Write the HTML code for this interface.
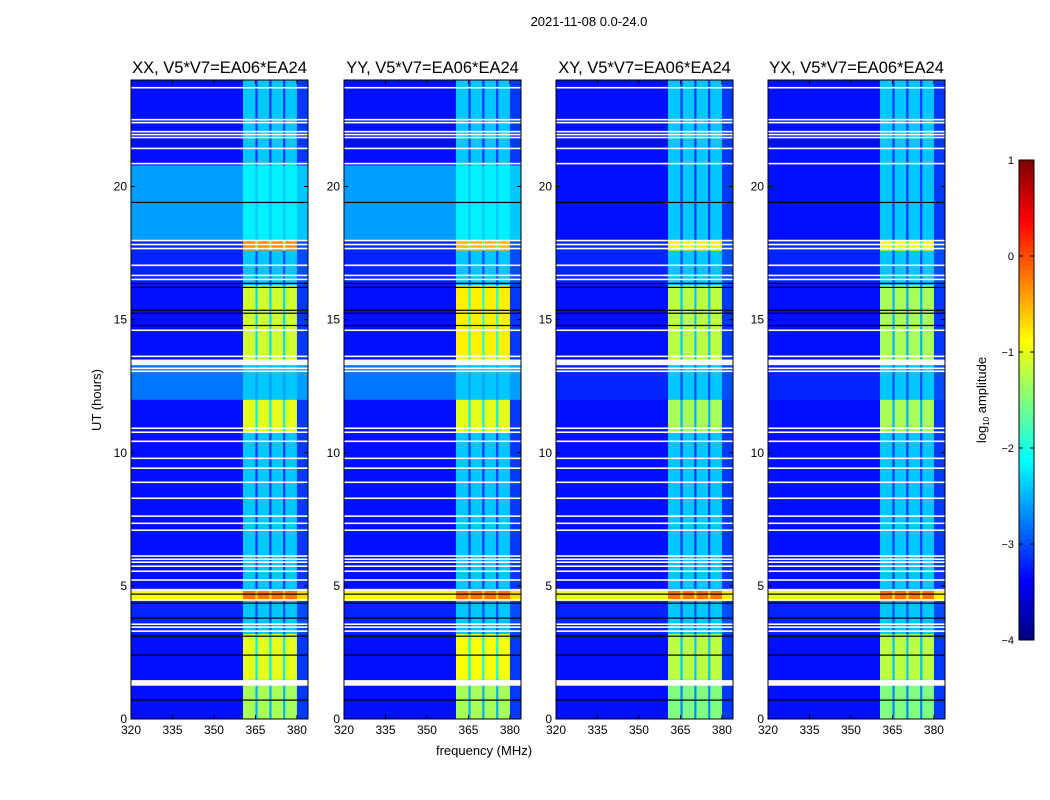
<!DOCTYPE html>
<html><head><meta charset="utf-8"><style>
body{margin:0;background:#fff;}
svg{display:block;font-family:"Liberation Sans",sans-serif;}
</style></head><body>
<svg id="fig" width="1050" height="800">
<text x="589" y="26" font-size="13" text-anchor="middle">2021-11-08 0.0-24.0</text>
<text x="484" y="755" font-size="13" text-anchor="middle">frequency (MHz)</text>
<text x="0" y="0" font-size="13" text-anchor="middle" transform="translate(101,400) rotate(-90)">UT (hours)</text>
</svg>
<script>
const panelTitles=["XX, V5*V7=EA06*EA24","YY, V5*V7=EA06*EA24","XY, V5*V7=EA06*EA24","YX, V5*V7=EA06*EA24"];
const xTicks=[320,335,350,365,380];
const yTicks=[0,5,10,15,20];
const cbTicks=[1,0,-1,-2,-3,-4];
const cbLabels=["1","0","\u22121","\u22122","\u22123","\u22124"];
// frequency bands (MHz): kind 0=background,1=rfi,2=gap,3=edge
const bandStart=[320,360.5,365,365.8,370,370.8,375,375.8,380];
const bandEnd=[360.5,365,365.8,370,370.8,375,375.8,380,384];
const bandKind=[0,1,2,1,2,1,2,1,3];
// time blocks (hours)
const blockStart=[0,1.5,3.2,4.45,4.9,10.8,12.0,13.5,16.3,17.6,18.0,20.8];
const blockEnd=[1.5,3.2,4.45,4.9,10.8,12.0,13.5,16.3,17.6,18.0,20.8,24];
// background log amplitude per panel
const bgXX=[-3.3,-3.3,-3.2,-0.9,-3.3,-3.3,-2.8,-3.3,-3.2,-3.2,-2.6,-3.3];
const bgYY=[-3.3,-3.3,-3.2,-0.9,-3.3,-3.3,-2.8,-3.3,-3.2,-3.2,-2.6,-3.3];
const bgXY=[-3.3,-3.3,-3.2,-1.0,-3.3,-3.3,-3.2,-3.3,-3.2,-3.2,-3.3,-3.3];
const bgYX=[-3.3,-3.3,-3.2,-1.0,-3.3,-3.3,-3.2,-3.3,-3.2,-3.2,-3.3,-3.3];
// rfi log amplitude per panel
const rfiXX=[-1.3,-1.0,-2.4,-0.2,-2.4,-1.0,-2.4,-1.1,-2.4,-0.3,-2.2,-2.4];
const rfiYY=[-1.3,-0.9,-2.4,-0.2,-2.4,-1.0,-2.4,-0.8,-2.4,-0.5,-2.2,-2.4];
const rfiXY=[-1.5,-1.2,-2.4,-0.2,-2.4,-1.3,-2.4,-1.2,-2.4,-0.8,-2.4,-2.4];
const rfiYX=[-1.5,-1.2,-2.4,-0.2,-2.4,-1.3,-2.4,-1.3,-2.4,-0.9,-2.4,-2.4];
const bgs=[bgXX,bgYY,bgXY,bgYX], rfis=[rfiXX,rfiYY,rfiXY,rfiYX];
// flagged (white) and dropout (black) hours
const whiteHours=[23.71,22.51,22.40,22.06,21.95,21.84,21.43,20.86,17.97,17.82,17.67,17.04,16.66,16.51,14.60,13.62,13.43,13.32,13.17,13.06,10.92,10.77,10.43,9.79,9.42,8.89,8.29,7.62,7.35,7.09,6.12,6.00,5.89,5.74,5.55,5.22,4.84,4.47,3.56,3.45,3.30];
const whiteBlocks=[[1.25,1.46],[13.3,13.5]];
const blackHours=[19.40,16.36,16.21,15.35,15.24,14.78,4.69,4.35,3.79,3.11,2.40,0.71];

const NS="http://www.w3.org/2000/svg";
const svg=document.getElementById('fig');
function mk(tag,attrs,parent){const e=document.createElementNS(NS,tag);for(const k in attrs)e.setAttribute(k,attrs[k]);(parent||svg).appendChild(e);return e;}
function jet(v){let t=(v+4)/5;t=Math.max(0,Math.min(1,t));const c=x=>Math.round(255*Math.max(0,Math.min(1,1.5-Math.abs(4*t-x))));return `rgb(${c(3)},${c(2)},${c(1)})`;}
const panelX=[131,344,556,768], pw=177, plotTop=80, plotBot=719;
const fMin=320,fMax=384,tMax=24;
for(let p=0;p<4;p++){
  const x0=panelX[p];
  const xs=f=>x0+(f-fMin)/(fMax-fMin)*pw;
  const ys=h=>plotBot-h/tMax*(plotBot-plotTop);
  const g=mk('g',{});
  
  
  for(let b=0;b<blockStart.length;b++){
    for(let k=0;k<bandStart.length;k++){
      let v=bgs[p][b];
      if(bandKind[k]===1)v=Math.max(v,rfis[p][b]);
      else if(bandKind[k]===2)v=Math.max(v+0.2,rfis[p][b]-1.2);
      else if(bandKind[k]===3)v=v+0.2;
      const r=mk('rect',{x:xs(bandStart[k]),y:ys(blockEnd[b]),width:xs(bandEnd[k])-xs(bandStart[k])+0.3,height:ys(blockStart[b])-ys(blockEnd[b])+0.3,fill:jet(v)},g);
      
      
    }
  }
  for(const h of blackHours){const r=mk('rect',{x:x0,y:ys(h)-0.6,width:pw,height:1.2,fill:'#000'},g);
    }
  for(const h of whiteHours){const r=mk('rect',{x:x0,y:ys(h)-0.8,width:pw,height:1.6,fill:'#fff'},g);
    }
  for(const wb of whiteBlocks){const r=mk('rect',{x:x0,y:ys(wb[1]),width:pw,height:ys(wb[0])-ys(wb[1]),fill:'#fff'},g);
    }
  const fr=mk('rect',{x:x0,y:plotTop,width:pw,height:plotBot-plotTop,fill:'none',stroke:'#000','stroke-width':1},g);
  
  const tt=mk('text',{x:x0+pw/2,y:plotTop-7,'font-size':16.5,'text-anchor':'middle'},g);tt.textContent=panelTitles[p];
  
  for(let i=0;i<xTicks.length;i++){const x=xs(xTicks[i]);
    mk('line',{x1:x,x2:x,y1:plotBot,y2:plotBot-4,stroke:'#000'},g);mk('line',{x1:x,x2:x,y1:plotTop,y2:plotTop+4,stroke:'#000'},g);
    const t=mk('text',{x:x,y:plotBot+15,'font-size':12,'text-anchor':'middle'},g);t.textContent=xTicks[i];
    }
  for(let i=0;i<yTicks.length;i++){const y=ys(yTicks[i]);
    mk('line',{x1:x0,x2:x0+4,y1:y,y2:y,stroke:'#000'},g);mk('line',{x1:x0+pw,x2:x0+pw-4,y1:y,y2:y,stroke:'#000'},g);
    const t=mk('text',{x:x0-4,y:y+4,'font-size':12,'text-anchor':'end'},g);t.textContent=yTicks[i];
    }
}
// colorbar
const cbx=1019,cbw=15,cbt=160,cbb=640,cbMin=-4,cbMax=1;
const cys=v=>cbb-(v-cbMin)/(cbMax-cbMin)*(cbb-cbt);
const cg=mk('g',{});
for(let i=0;i<100;i++){const v0=cbMin+i*0.05;mk('rect',{x:cbx,y:cys(v0+0.05),width:cbw,height:cys(v0)-cys(v0+0.05)+0.5,fill:jet(v0+0.025)},cg);}
mk('rect',{x:cbx,y:cbt,width:cbw,height:cbb-cbt,fill:'none',stroke:'#000'},cg);
for(let i=0;i<cbTicks.length;i++){const y=cys(cbTicks[i]);
  mk('line',{x1:cbx,x2:cbx+4,y1:y,y2:y,stroke:'#000'},cg);mk('line',{x1:cbx+cbw,x2:cbx+cbw-4,y1:y,y2:y,stroke:'#000'},cg);
  const t=mk('text',{x:cbx-5,y:y+4,'font-size':11,'text-anchor':'end'},cg);t.textContent=cbLabels[i];
  }
const cl=mk('text',{x:0,y:0,'font-size':13,'text-anchor':'middle',transform:'translate(986,400) rotate(-90)'},cg);
cl.innerHTML='log<tspan font-size="8" dy="3">10</tspan><tspan dy="-3"> amplitude</tspan>';

</script>
</body></html>
